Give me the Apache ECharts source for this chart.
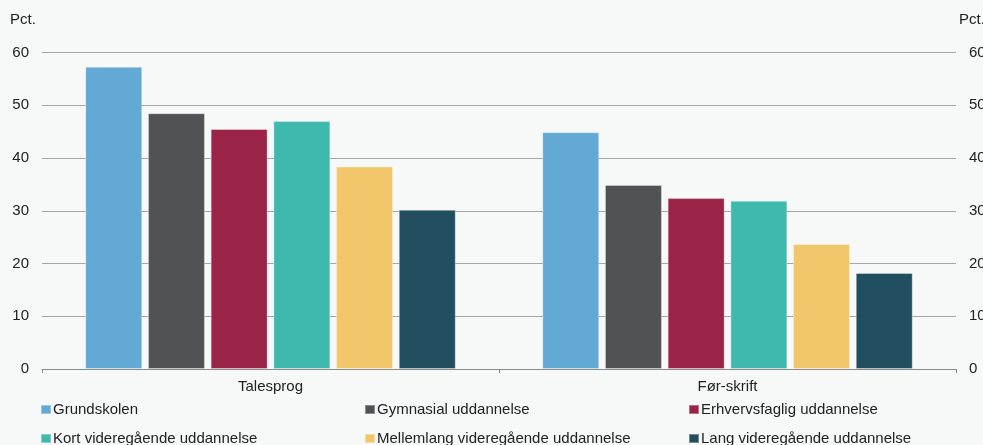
<!DOCTYPE html>
<html><head><meta charset="utf-8">
<script src="https://cdn.jsdelivr.net/npm/echarts@6/dist/echarts.min.js"></script>
<style>html,body{margin:0;padding:0;background:#f7f8f8}#c{width:983px;height:445px}</style>
</head><body><div id="c"></div>
<script>
const categories = ['Talesprog', 'Før-skrift'];
const seriesNames = ['Grundskolen', 'Gymnasial uddannelse', 'Erhvervsfaglig uddannelse', 'Kort videregående uddannelse', 'Mellemlang videregående uddannelse', 'Lang videregående uddannelse'];
const grundskolen = [57.3, 44.9];
const gymnasial = [48.5, 34.9];
const erhvervsfaglig = [45.5, 32.4];
const kortVideregaaende = [47.0, 31.9];
const mellemlangVideregaaende = [38.4, 23.7];
const langVideregaaende = [30.2, 18.2];
const colors = ['#63a9d5', '#515256', '#9a2447', '#3fb9ae', '#f2c76b', '#214f5f'];
const valuesList = [grundskolen, gymnasial, erhvervsfaglig, kortVideregaaende, mellemlangVideregaaende, langVideregaaende];
const yTicks = [0, 10, 20, 30, 40, 50, 60];

const chart = echarts.init(document.getElementById('c'), null, {renderer: 'canvas'});
const font = 'Liberation Sans, Arial, Helvetica, sans-serif';
const legendPos = [[40, 402], [364, 402], [688, 402], [40, 431], [364, 431], [688, 431]];
chart.setOption({
  backgroundColor: '#f7f8f8',
  animation: false,
  textStyle: {fontFamily: font, color: '#222'},
  grid: {left: 42, right: 27, top: 52.5, bottom: 76, outerBoundsMode: 'none', containLabel: false},
  graphic: [
    {type: 'text', left: 10, top: 12, style: {text: 'Pct.', font: '15px ' + font, fill: '#222'}},
    {type: 'text', left: 959, top: 12, style: {text: 'Pct.', font: '15px ' + font, fill: '#222'}}
  ],
  legend: seriesNames.map((n, i) => ({
    data: [n], left: legendPos[i][0], top: legendPos[i][1], itemWidth: 10, itemHeight: 9,
    icon: 'rect', itemGap: 0, selectedMode: false, padding: 0,
    textStyle: {fontSize: 15, fontFamily: font, color: '#222', padding: [0, 0, 0, -3]}
  })),
  xAxis: {
    type: 'category', data: categories,
    axisLine: {lineStyle: {color: '#8c8c8c', width: 1}},
    axisTick: {show: true, length: 4, lineStyle: {color: '#8c8c8c'}},
    axisLabel: {fontSize: 15, color: '#222', margin: 10, fontFamily: font}
  },
  yAxis: [0, 1].map(k => ({
    type: 'value', min: 0, max: 60, interval: 10, position: k ? 'right' : 'left',
    axisLine: {show: false}, axisTick: {show: false},
    splitLine: {show: k === 0, lineStyle: {color: '#a6a6a6', width: 1}},
    axisLabel: {fontSize: 15, color: '#222', margin: 13, fontFamily: font,
      formatter: v => yTicks.includes(v) ? String(v) : ''}
  })),
  series: seriesNames.map((n, i) => ({
    name: n, type: 'bar', data: valuesList[i], yAxisIndex: 0,
    barWidth: 57, barGap: '10%', barCategoryGap: '18.6%',
    itemStyle: {color: colors[i], borderColor: 'rgba(255,255,255,0.35)', borderWidth: 1}
  }))
});
</script></body></html>
